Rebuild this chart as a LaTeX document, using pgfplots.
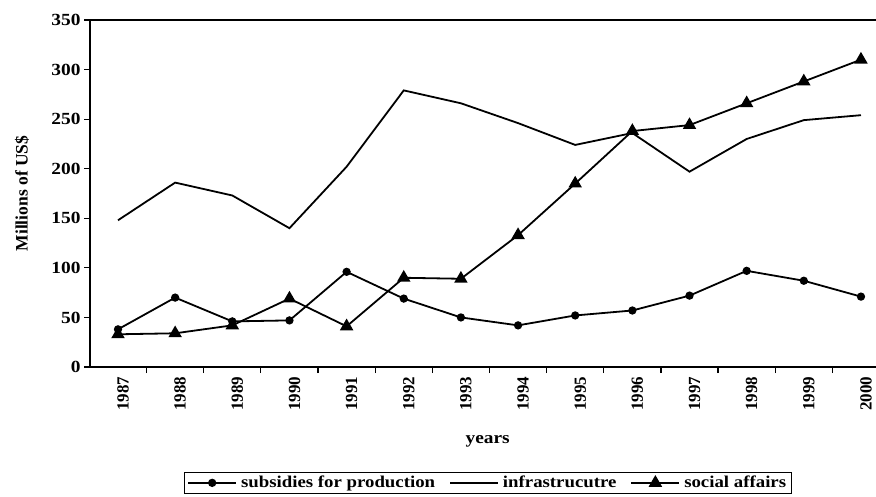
\documentclass[border=0pt]{standalone}
\usepackage{fontspec}
\setmainfont{Liberation Serif}
\newfontfamily\stretched[FakeStretch=1.14]{Liberation Serif}
\usepackage{pgfplots}
\pgfplotsset{compat=1.18}
\begin{document}
\begin{tikzpicture}
\begin{axis}[
  scale only axis, width=786pt, height=347pt,
  xmin=-0.49, xmax=13.263, ymin=0, ymax=350,
  axis x line*=bottom, axis y line*=left,
  axis line style={-, line width=1.6pt},
  ytick={0,50,...,350},
  xtick={0,...,13},
  xticklabels={1987,1988,1989,1990,1991,1992,1993,1994,1995,1996,1997,1998,1999,2000},
  minor xtick={0.5,1.5,...,12.5},
  major x tick style={draw=none},
  tick align=outside, major tick length=6pt, minor tick length=6pt,
  tick style={line width=1.2pt, black},
  /pgf/number format/assume math mode=true,
  yticklabel style={font=\stretched\bfseries\fontsize{17}{18}\selectfont},
  xticklabel style={rotate=90, anchor=east, yshift=-5pt, font=\bfseries\fontsize{17}{18}\selectfont},
  xlabel={years},
  ylabel={Millions of US\$},
  xlabel style={font=\stretched\bfseries\fontsize{17}{18}\selectfont, at={(axis description cs:0.506,-0.213)}, anchor=center},
  ylabel style={font=\bfseries\fontsize{17.5}{18}\selectfont, at={(axis description cs:-0.0865,0.5)}, anchor=center, rotate=0},
  legend columns=3,
  legend style={draw=black, line width=1pt, at={(axis description cs:0.506,-0.302)}, anchor=north,
    font=\stretched\bfseries\fontsize{16.5}{18}\selectfont, inner xsep=3pt, inner ysep=2pt,
    /tikz/every odd column/.append style={column sep=2pt},
    /tikz/every even column/.append style={column sep=12pt}},
  legend image code/.code={\draw[mark repeat=2,mark phase=2] plot coordinates {(0pt,0pt) (24pt,0pt) (48pt,0pt)};},
  every axis plot/.append style={line width=1.8pt, black},
  clip=false,
]
\coordinate (O) at (rel axis cs:0,0);
\draw[line width=1.6pt] (rel axis cs:0,1) -- (rel axis cs:1,1);
\addplot[mark=*, mark size=3.2pt] coordinates {
(0,38) (1,70) (2,46) (3,47) (4,96) (5,69) (6,50) (7,42) (8,52) (9,57) (10,72) (11,97) (12,87) (13,71)};
\addlegendentry{subsidies for production}
\addplot[no marks] coordinates {
(0,148) (1,186) (2,173) (3,140) (4,202) (5,279) (6,266) (7,246) (8,224) (9,236) (10,197) (11,230) (12,249) (13,254)};
\addlegendentry{infrastrucutre}
\addplot[mark=triangle*, mark size=6pt] coordinates {
(0,33) (1,34) (2,42) (3,69) (4,41) (5,90) (6,89) (7,133) (8,185) (9,238) (10,244) (11,266) (12,288) (13,310)};
\addlegendentry{social affairs}
\end{axis}
\pgfresetboundingbox
\path ([xshift=-90pt,yshift=-129pt]O) rectangle ++(876pt,496pt);
\end{tikzpicture}
\end{document}
